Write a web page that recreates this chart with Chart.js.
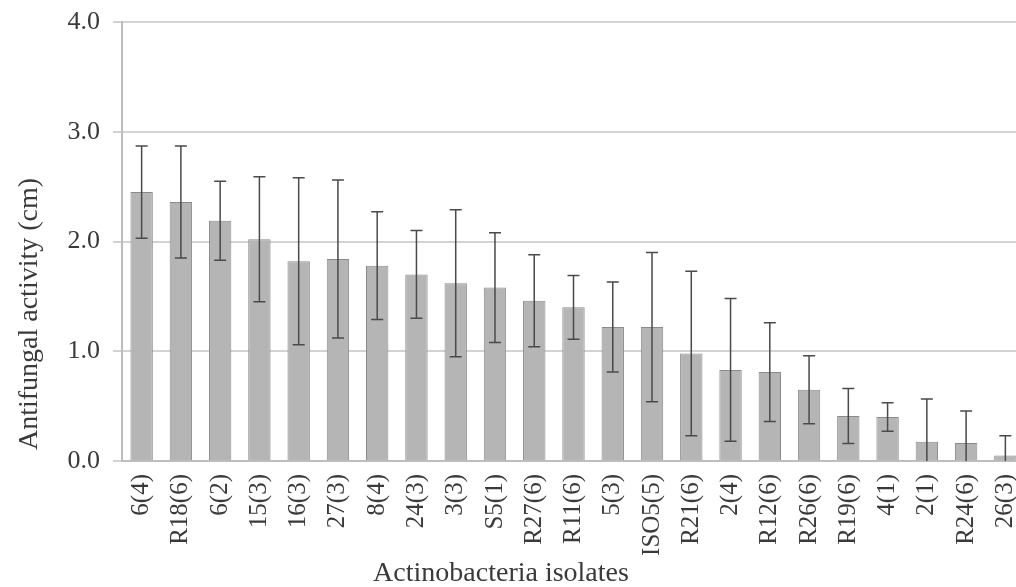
<!DOCTYPE html>
<html>
<head>
<meta charset="utf-8">
<title>Antifungal activity</title>
<script src="https://cdn.jsdelivr.net/npm/chart.js@4.4.1/dist/chart.umd.min.js"></script>
<style>
  html, body { margin: 0; padding: 0; background: #fff; overflow: hidden; }
  #myChart { display: block; }
</style>
</head>
<body>
<canvas id="myChart" width="1050" height="587"></canvas>
<script>
// isolates, in the order shown
const isolates = ['6(4)', 'R18(6)', '6(2)', '15(3)', '16(3)', '27(3)', '8(4)', '24(3)', '3(3)', 'S5(1)',
  'R27(6)', 'R11(6)', '5(3)', 'ISO5(5)', 'R21(6)', '2(4)', 'R12(6)', 'R26(6)', 'R19(6)', '4(1)',
  '2(1)', 'R24(6)', '26(3)'];
// mean inhibition zone (cm)
const means = [2.45, 2.36, 2.19, 2.02, 1.82, 1.84, 1.78, 1.70, 1.62, 1.58,
  1.46, 1.40, 1.22, 1.22, 0.98, 0.83, 0.81, 0.65, 0.41, 0.40,
  0.175, 0.165, 0.05];
// standard deviation (cm)
const sd = [0.42, 0.51, 0.36, 0.57, 0.76, 0.72, 0.49, 0.40, 0.67, 0.50,
  0.42, 0.29, 0.41, 0.68, 0.75, 0.65, 0.45, 0.31, 0.25, 0.13,
  0.39, 0.29, 0.18];
const yTicks = [0, 1, 2, 3, 4];

const serif = "'Liberation Serif', 'Times New Roman', serif";
const textColor = '#3a3a3a';

// whiskers drawn from the y scale
const errorBars = {
  id: 'errorBars',
  afterDatasetsDraw(chart) {
    const ctx = chart.ctx;
    const y = chart.scales.y;
    const area = chart.chartArea;
    const meta = chart.getDatasetMeta(0);
    ctx.save();
    ctx.beginPath();
    ctx.rect(area.left, area.top, area.right - area.left, area.bottom - area.top);
    ctx.clip();
    ctx.strokeStyle = '#4a4a4a';
    ctx.lineWidth = 1.5;
    meta.data.forEach(function (bar, i) {
      const hi = y.getPixelForValue(means[i] + sd[i]);
      const lo = y.getPixelForValue(means[i] - sd[i]);
      const cap = 6;
      ctx.beginPath();
      ctx.moveTo(bar.x, hi);
      ctx.lineTo(bar.x, lo);
      ctx.moveTo(bar.x - cap, hi);
      ctx.lineTo(bar.x + cap, hi);
      ctx.moveTo(bar.x - cap, lo);
      ctx.lineTo(bar.x + cap, lo);
      ctx.stroke();
    });
    ctx.restore();
  }
};

// axis titles sit off-centre in the original figure
const axisTitles = {
  id: 'axisTitles',
  afterDraw(chart) {
    const ctx = chart.ctx;
    const area = chart.chartArea;
    ctx.save();
    ctx.fillStyle = textColor;
    ctx.font = '28px ' + serif;
    ctx.textAlign = 'center';
    ctx.textBaseline = 'middle';
    ctx.fillText('Actinobacteria isolates', area.left + 379, 574);
    ctx.translate(30, area.bottom - 147);
    ctx.rotate(-Math.PI / 2);
    ctx.fillText('Antifungal activity (cm)', 0, 0);
    ctx.restore();
  }
};

const ctx = document.getElementById('myChart').getContext('2d');
new Chart(ctx, {
  type: 'bar',
  data: {
    labels: isolates,
    datasets: [{
      data: means,
      backgroundColor: '#b5b5b5',
      borderColor: '#8a8a8a',
      borderWidth: 1,
      categoryPercentage: 1,
      barPercentage: 0.57
    }]
  },
  options: {
    responsive: false,
    animation: false,
    layout: { padding: { top: 22, right: 25, bottom: 0, left: 0 } },
    plugins: {
      legend: { display: false },
      tooltip: { enabled: false }
    },
    scales: {
      x: {
        afterFit: function (scale) {
          scale.height = 126;
          scale.paddingLeft = 0;
          scale.paddingRight = 0;
        },
        grid: { display: false, drawTicks: false },
        border: { color: '#bdbdbd', width: 2 },
        ticks: {
          color: textColor,
          font: { family: serif, size: 25 },
          minRotation: 90,
          maxRotation: 90,
          autoSkip: false,
          padding: 13
        }
      },
      y: {
        min: 0,
        max: 4,
        afterFit: function (scale) {
          scale.width = 122;
          scale.paddingTop = 0;
          scale.paddingBottom = 0;
        },
        afterBuildTicks: function (scale) {
          scale.ticks = yTicks.map(function (v) { return { value: v }; });
        },
        grid: { color: '#d3d3d3', lineWidth: 2, tickLength: 9 },
        border: { color: '#bdbdbd', width: 2 },
        ticks: {
          color: textColor,
          font: { family: serif, size: 26 },
          padding: 13,
          callback: function (v) { return Number(v).toFixed(1); }
        }
      }
    }
  },
  plugins: [errorBars, axisTitles]
});
</script>
</body>
</html>
